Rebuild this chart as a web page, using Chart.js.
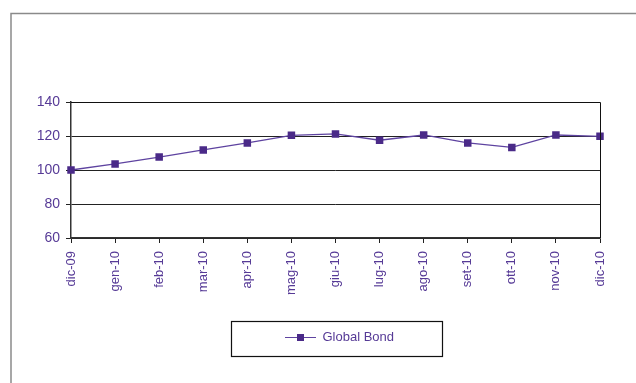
<!DOCTYPE html>
<html>
<head>
<meta charset="utf-8">
<script src="https://cdn.jsdelivr.net/npm/chart.js@4/dist/chart.umd.min.js"></script>
<style>
  html, body { margin: 0; padding: 0; background: #fff; }
  canvas { display: block; }
</style>
</head>
<body>
<canvas id="chart" width="636" height="383"></canvas>
<script>
// data
var months = ['dic-09', 'gen-10', 'feb-10', 'mar-10', 'apr-10', 'mag-10', 'giu-10',
              'lug-10', 'ago-10', 'set-10', 'ott-10', 'nov-10', 'dic-10'];
var globalBond = [100, 103.6, 107.6, 111.8, 115.9, 120.4, 121.2, 117.5, 120.6, 115.9, 113.3, 120.6, 119.8];
var yTicks = [60, 80, 100, 120, 140];

var textColor = '#563a96';
var lineColor = '#5e43a0';
var markColor = '#4a2a88';

// legend symbol: short line with a square in the middle
var sym = document.createElement('canvas');
sym.width = 31; sym.height = 9;
(function () {
    var c = sym.getContext('2d');
    c.strokeStyle = lineColor;
    c.lineWidth = 1;
    c.beginPath(); c.moveTo(0, 4.5); c.lineTo(31, 4.5); c.stroke();
    c.fillStyle = markColor;
    c.fillRect(12, 1, 7, 7);
})();

var framePlugin = {
    id: 'frame',
    afterLayout: function (chart) {
        var lg = chart.legend;
        if (lg) {
            lg.left = 234; lg.top = 321;
            lg.width = 211; lg.height = 36;
            lg.right = lg.left + lg.width; lg.bottom = lg.top + lg.height;
        }
    },
    beforeDraw: function (chart) {
        var ctx = chart.ctx;
        ctx.save();
        ctx.strokeStyle = '#8a8a8a';
        ctx.lineWidth = 1.5;
        ctx.beginPath();
        ctx.moveTo(11, 383); ctx.lineTo(11, 13.5); ctx.lineTo(636, 13.5);
        ctx.stroke();
        ctx.restore();
    },
    afterDraw: function (chart) {
        var ctx = chart.ctx, a = chart.chartArea;
        ctx.save();
        ctx.strokeStyle = '#111';
        ctx.lineWidth = 1;
        ctx.beginPath();
        ctx.moveTo(a.left, a.top + 0.5); ctx.lineTo(a.right + 0.5, a.top + 0.5);
        ctx.lineTo(a.right + 0.5, a.bottom);
        ctx.stroke();
        ctx.lineWidth = 1.2;
        ctx.strokeRect(231.5, 321.5, 211, 35);
        ctx.restore();
    }
};

new Chart(document.getElementById('chart'), {
    type: 'line',
    data: {
        labels: months,
        datasets: [{
            label: 'Global Bond',
            data: globalBond,
            borderColor: lineColor,
            borderWidth: 1.3,
            backgroundColor: markColor,
            pointStyle: 'rect',
            pointRadius: 5.3,
            pointBorderWidth: 0,
            pointBackgroundColor: markColor,
            tension: 0
        }]
    },
    options: {
        responsive: false,
        animation: false,
        devicePixelRatio: 1,
        layout: { padding: { top: 102, right: 36, left: 0, bottom: 0 } },
        plugins: {
            tooltip: { enabled: false },
            legend: {
                position: 'bottom',
                labels: {
                    usePointStyle: true,
                    pointStyle: sym,
                    pointStyleWidth: 31,
                    padding: 10,
                    color: textColor,
                    font: { family: 'Liberation Sans, Arial, sans-serif', size: 13 }
                }
            }
        },
        scales: {
            x: {
                offset: false,
                grid: { drawOnChartArea: false, drawTicks: true, tickLength: 5, color: '#222' },
                border: { color: '#333', width: 1.5 },
                ticks: {
                    minRotation: 90, maxRotation: 90, autoSkip: false, padding: 8,
                    color: textColor,
                    font: { family: 'Liberation Sans, Arial, sans-serif', size: 13 }
                },
                afterFit: function (s) {
                    var lh = s.chart.legend ? s.chart.legend.height : 0;
                    s.height = 383 - 238 - lh;
                }
            },
            y: {
                min: 60, max: 140,
                afterBuildTicks: function (s) {
                    s.ticks = yTicks.map(function (v) { return { value: v }; });
                },
                grid: { color: '#222', tickLength: 5, lineWidth: 1 },
                border: { color: '#333', width: 1.5 },
                ticks: {
                    padding: 6,
                    color: textColor,
                    font: { family: 'Liberation Sans, Arial, sans-serif', size: 14 }
                },
                afterFit: function (s) { s.width = 71; }
            }
        }
    },
    plugins: [framePlugin]
});
</script>
</body>
</html>
